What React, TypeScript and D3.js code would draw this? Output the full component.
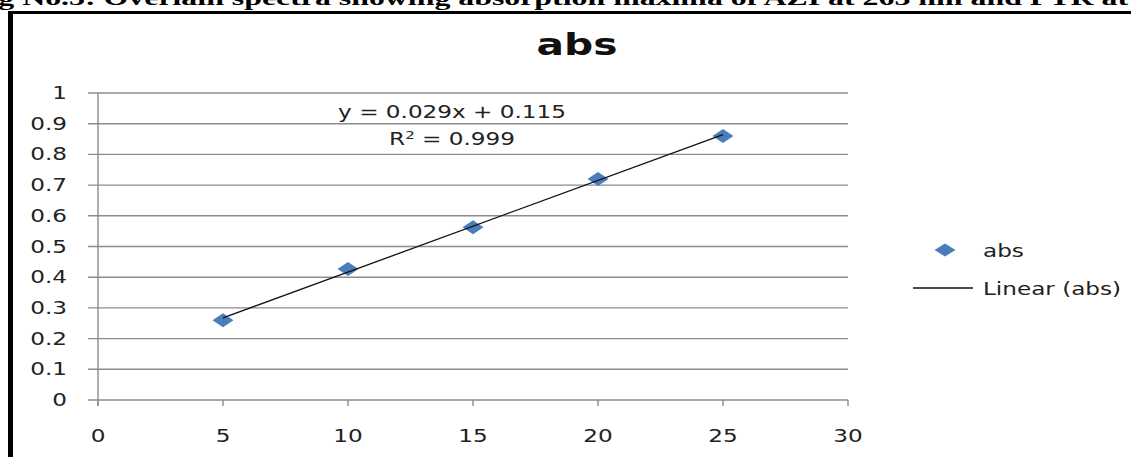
import React, { useEffect, useRef } from "react";
import * as d3 from "d3";

// calibration data
const concentrations = [5, 10, 15, 20, 25];
const absValues = [0.26, 0.427, 0.563, 0.72, 0.86];
const xTicks = [0, 5, 10, 15, 20, 25, 30];
const yTicks = [0, 0.1, 0.2, 0.3, 0.4, 0.5, 0.6, 0.7, 0.8, 0.9, 1];
const equationLabel = "y = 0.029x + 0.115";
const r2Label = "= 0.999";
const seriesName = "abs";
const trendName = "Linear (abs)";
const figCaption =
  "Fig No.3: Overlain spectra showing absorption maxima of AZI at 263 nm and PTR at";

const W = 1131;
const H = 457;
const STRETCH = 1.36; // the source picture is widened horizontally
const FONT = "'DejaVu Sans', Verdana, sans-serif";

export default function App() {
  const svgRef = useRef<SVGSVGElement>(null);

  useEffect(() => {
    const svg = d3.select(svgRef.current);
    svg.selectAll("*").remove();

    const x = d3.scaleLinear().domain([0, 30]).range([98, 848]);
    const y = d3.scaleLinear().domain([0, 1]).range([400, 93]);

    // stretched text helper
    const label = (
      g: any,
      px: number,
      py: number,
      txt: string,
      size: number,
      anchor: string,
      weight = "normal"
    ) => {
      const t = g
        .append("g")
        .attr("transform", `translate(${px},${py}) scale(${STRETCH},1)`)
        .append("text")
        .attr("x", 0)
        .attr("y", 0)
        .attr("text-anchor", anchor)
        .attr("font-family", FONT)
        .attr("font-size", size)
        .attr("font-weight", weight)
        .attr("fill", "#222")
        .text(txt);
      return t;
    };

    // clipped caption above the chart box
    svg
      .append("text")
      .attr("x", -30)
      .attr("y", 5)
      .attr("font-family", "'Liberation Serif', 'Times New Roman', serif")
      .attr("font-weight", "bold")
      .attr("font-size", 21)
      .attr("textLength", 1158)
      .attr("lengthAdjust", "spacingAndGlyphs")
      .attr("fill", "#000")
      .text(figCaption);

    // chart box border (only left and top edges are in view)
    svg
      .append("line")
      .attr("x1", 10.5)
      .attr("x2", 10.5)
      .attr("y1", 11)
      .attr("y2", H)
      .attr("stroke", "#000")
      .attr("stroke-width", 5);
    svg
      .append("line")
      .attr("x1", 8)
      .attr("x2", W)
      .attr("y1", 12.5)
      .attr("y2", 12.5)
      .attr("stroke", "#000")
      .attr("stroke-width", 3);

    // title
    label(svg, 577, 55, seriesName, 30, "middle", "bold").attr("fill", "#111");

    // gridlines
    svg
      .append("g")
      .selectAll("line")
      .data(yTicks)
      .enter()
      .append("line")
      .attr("x1", 88)
      .attr("x2", x(30))
      .attr("y1", (d: number) => y(d))
      .attr("y2", (d: number) => y(d))
      .attr("stroke", "#8c8c8c")
      .attr("stroke-width", 1.4);

    // y axis line
    svg
      .append("line")
      .attr("x1", x(0))
      .attr("x2", x(0))
      .attr("y1", y(1))
      .attr("y2", y(0) + 6)
      .attr("stroke", "#8c8c8c")
      .attr("stroke-width", 1.4);

    // x ticks
    svg
      .append("g")
      .selectAll("line")
      .data(xTicks)
      .enter()
      .append("line")
      .attr("x1", (d: number) => x(d))
      .attr("x2", (d: number) => x(d))
      .attr("y1", y(0))
      .attr("y2", y(0) + 6)
      .attr("stroke", "#8c8c8c")
      .attr("stroke-width", 1.4);

    // tick labels
    yTicks.forEach((d) => {
      label(svg, 67, y(d) + 6, d3.format("~g")(d), 17, "end");
    });
    xTicks.forEach((d) => {
      label(svg, x(d), 442, String(d), 17, "middle");
    });

    // least squares trendline across the data range
    const mx = d3.mean(concentrations)!;
    const my = d3.mean(absValues)!;
    const slope =
      d3.sum(concentrations, (c, i) => (c - mx) * (absValues[i] - my)) /
      d3.sum(concentrations, (c) => (c - mx) ** 2);
    const intercept = my - slope * mx;
    const ends = d3.extent(concentrations) as [number, number];

    // diamond marker path
    const diamond = (cx: number, cy: number, hw: number, hh: number) =>
      `M${cx - hw},${cy}L${cx},${cy - hh}L${cx + hw},${cy}L${cx},${cy + hh}Z`;

    svg
      .append("g")
      .selectAll("path")
      .data(concentrations)
      .enter()
      .append("path")
      .attr("d", (d: number, i: number) => diamond(x(d), y(absValues[i]), 10.5, 7))
      .attr("fill", "#4a7ebb");

    svg
      .append("line")
      .attr("x1", x(ends[0]))
      .attr("x2", x(ends[1]))
      .attr("y1", y(intercept + slope * ends[0]))
      .attr("y2", y(intercept + slope * ends[1]))
      .attr("stroke", "#111")
      .attr("stroke-width", 1.3);

    // equation labels
    label(svg, 452, 118, equationLabel, 17, "middle");
    const r2 = label(svg, 452, 145, "", 17, "middle");
    r2.append("tspan").text("R");
    r2.append("tspan").attr("dy", -6).attr("font-size", 11).text("2");
    r2.append("tspan").attr("dy", 6).text(" " + r2Label);

    // legend
    svg
      .append("path")
      .attr("d", diamond(945, 250, 10.5, 6.5))
      .attr("fill", "#4a7ebb");
    label(svg, 983, 257, seriesName, 17, "start");
    svg
      .append("line")
      .attr("x1", 913)
      .attr("x2", 973)
      .attr("y1", 288)
      .attr("y2", 288)
      .attr("stroke", "#111")
      .attr("stroke-width", 1.3);
    label(svg, 983, 295, trendName, 17, "start");
  }, []);

  return (
    <svg
      ref={svgRef}
      width={W}
      height={H}
      style={{ position: "absolute", left: 0, top: 0, background: "#fff" }}
    />
  );
}
